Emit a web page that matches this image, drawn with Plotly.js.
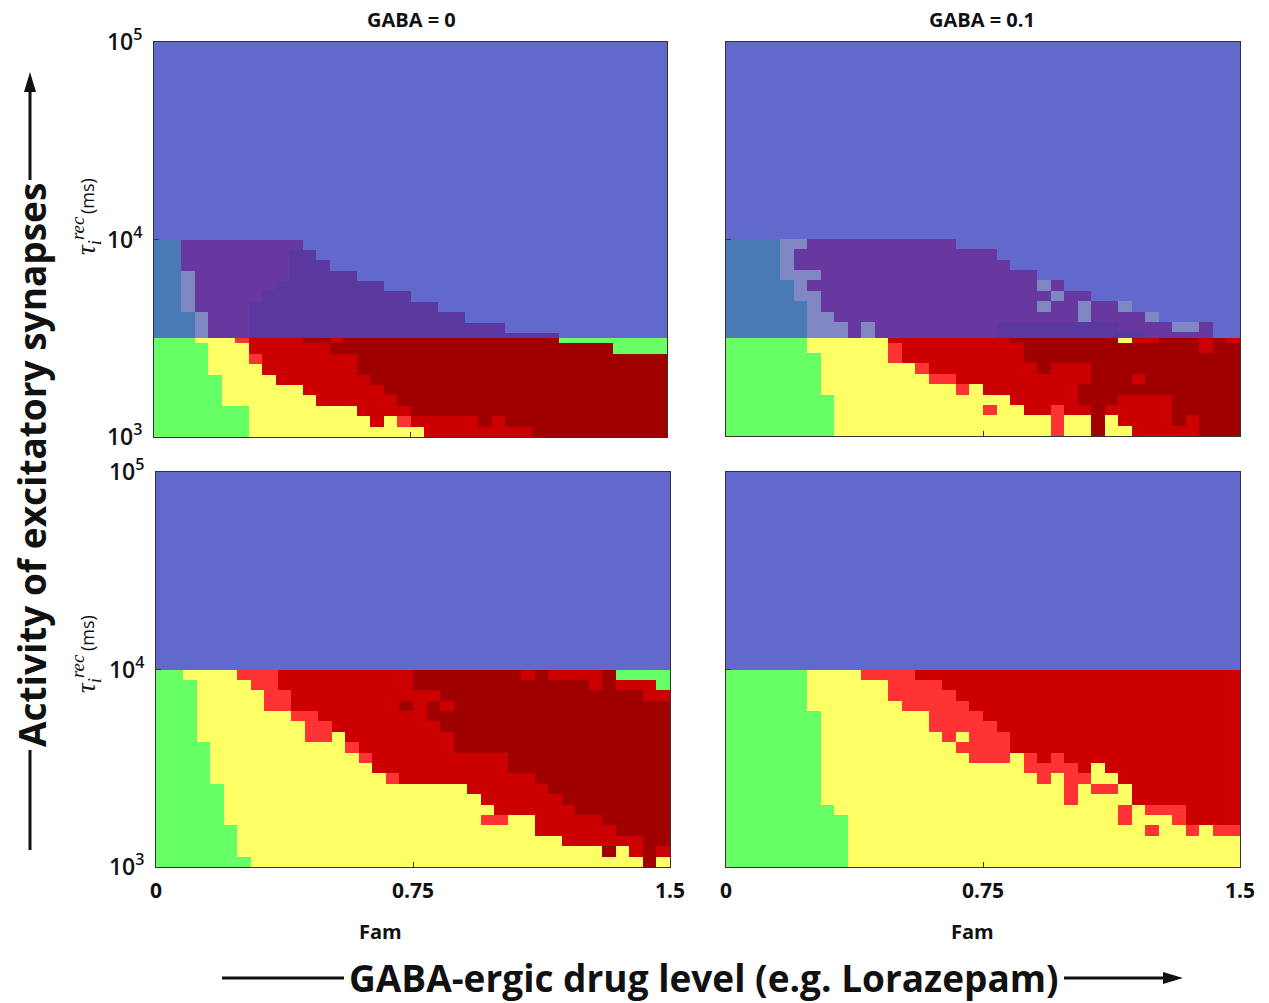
<!DOCTYPE html>
<html><head><meta charset="utf-8">
<script src="https://cdn.plot.ly/plotly-3.0.1.min.js"></script>
<style>html,body{margin:0;padding:0;background:#fff;} #chart{width:1269px;height:1003px;}</style>
</head><body><div id="chart"></div>
<script>
// ---------------- DATA ----------------
const columnTitles = ['GABA = 0', 'GABA = 0.1'];
const famTicks = [0, 0.75, 1.5];
const famTickText = ['0', '0.75', '1.5'];
const famRange = [0, 1.5];
const famCells = 38;                 // grid columns over Fam
const tauLogTicks = [3, 4, 5];       // log10(tau) ticks
const tauTickText = ['10<sup>3</sup>', '10<sup>4</sup>', '10<sup>5</sup>'];
const tauCellsPerDecade = 19;        // grid rows per decade (below 10^4)
const overlayLogTau = 3.5;           // top-row panels: boundary of the shaded band

// regime letters -> colours
const regimeCodes = ['B', 'T', 'L', 'P', 'Q', 'G', 'Y', 'R', 'D', 'O'];
const regimeColors = ['#6169cc', '#4a7ab6', '#8088c4', '#6838a0', '#5b37a0',
                      '#66ff66', '#ffff66', '#cc0000', '#a00000', '#ff3333'];

// rows listed from just below 10^4 (top) down to 10^3 (bottom), run-length coded
const gaba0_top = [
  'T2 P9 B27', 'T2 P8 Q2 B26', 'T2 P8 Q3 B25', 'T2 L1 P7 Q5 B23', 'T2 L1 P6 Q8 B21',
  'T2 L1 P5 Q11 B19', 'T2 L1 P4 Q14 B17', 'T3 L1 P3 Q16 B15', 'T3 L1 P3 Q19 B12',
  'T3 L1 P3 Q23 B8',
  'G3 Y3 O1 R4 D2 R1 D16 G8', 'G4 Y3 R6 D21 G4', 'G4 Y3 O1 R7 D23', 'G4 Y4 R7 D23',
  'G5 Y4 R7 D22', 'G5 Y6 R6 D21', 'G5 Y7 R6 D20', 'G7 Y8 R4 D19',
  'G7 Y9 R1 Y1 O1 R5 D1 R1 D12', 'G7 Y13 R8 D10'
];
const gaba01_top = [
  'T4 L2 P11 B21', 'T4 L1 P15 B18', 'T4 L1 P16 B17', 'T4 L3 P16 B15',
  'T5 L1 P17 L1 P1 B13', 'T5 L2 P17 L1 P2 B11', 'T6 L1 P16 L1 P2 L1 P2 L1 B8',
  'T6 L2 P18 L1 P4 L1 B6', 'T6 L3 P1 L1 P9 Q9 P4 L2 P1 B2',
  'T6 L3 P1 L1 P9 Q11 P5 B2',
  'G6 Y6 R9 D8 Y1 R2 D3 R1 D1 R1', 'G6 Y6 O1 R9 D13 R1 D2', 'G7 Y5 O1 R9 D16',
  'G7 Y7 O1 R8 D1 R3 D11', 'G7 Y8 O2 R10 D3 R1 D7', 'G7 Y10 O1 Y1 R7 D12',
  'G8 Y13 R5 D3 R4 D5', 'G8 Y11 O1 Y2 R2 O1 R2 D1 R5 D5',
  'G8 Y16 O1 Y2 D1 Y1 R4 D1 R1 D3', 'G8 Y16 O1 Y2 D1 Y2 R5 D3'
];
const gaba0_bottom = [
  'G2 Y4 O3 R10 D8 R1 D1 R4 D1 G4', 'G3 Y4 O2 R10 D13 R1 D1 R3 G1', 'G3 Y5 O2 R11 D15 R2',
  'G3 Y5 O2 R8 D1 R1 D1 R1 D16', 'G3 Y7 O2 R8 D18', 'G3 Y8 O2 R8 D17', 'G3 Y8 O2 Y1 R8 D16',
  'G4 Y10 O1 R7 D16', 'G4 Y11 O1 R10 D12', 'G4 Y12 R10 D12', 'G4 Y13 O1 R10 D10',
  'G5 Y18 R6 D9', 'G5 Y19 R6 D8', 'G5 Y20 R6 D7', 'G5 Y19 O2 Y2 R5 D5', 'G6 Y22 R6 D4',
  'G6 Y24 R6 D2', 'G6 Y27 D1 Y1 R1 D1 R1', 'G7 Y29 D1 Y1'
];
const gaba01_bottom = [
  'G6 Y4 O4 R24', 'G6 Y6 O4 R22', 'G6 Y6 O5 R21', 'G6 Y7 O5 R20', 'G7 Y8 O4 R19',
  'G7 Y8 O5 R18', 'G7 Y9 O1 Y1 O3 R17', 'G7 Y10 O4 R17', 'G7 Y11 O3 Y1 O1 R1 O1 R13',
  'G7 Y15 O4 R1 Y1 R10', 'G7 Y16 O1 Y1 O2 Y2 R9', 'G7 Y18 O1 Y1 O2 Y1 R8',
  'G7 Y18 O1 Y4 R8', 'G8 Y21 O1 Y1 O3 R4', 'G9 Y20 O1 Y3 O1 R4', 'G9 Y22 O1 Y2 O1 Y1 O2',
  'G9 Y29', 'G9 Y29', 'G9 Y29'
];

// ---------------- BUILD ----------------
function expand(rle) {
  let s = '';
  rle.trim().split(/\s+/).forEach(t => { s += t[0].repeat(parseInt(t.slice(1), 10)); });
  if (s.length !== famCells) console.warn('row length', rle, s.length);
  return s;
}
const famEdges = [];
for (let i = 0; i <= famCells; i++) famEdges.push(famRange[0] + (famRange[1] - famRange[0]) * i / famCells);

function buildPanel(rows, split) {
  const z = rows.map(expand).reverse().map(s => s.split('').map(c => regimeCodes.indexOf(c)));
  z.push(new Array(famCells).fill(regimeCodes.indexOf('B')));
  const yEdges = [];
  for (let k = 0; k <= tauCellsPerDecade; k++) {
    yEdges.push(3 + k / tauCellsPerDecade);
    if (split && k === 9) yEdges.push(overlayLogTau);
  }
  yEdges.push(5);
  return { z, y: yEdges };
}

const n = regimeColors.length;
const colorscale = [];
regimeColors.forEach((c, i) => { colorscale.push([i / n, c]); colorscale.push([(i + 1) / n, c]); });

const panels = [
  buildPanel(gaba0_top, true), buildPanel(gaba01_top, true),
  buildPanel(gaba0_bottom, false), buildPanel(gaba01_bottom, false)
];
const traces = panels.map((p, i) => ({
  type: 'heatmap', x: famEdges, y: p.y, z: p.z,
  colorscale: colorscale, zmin: -0.5, zmax: n - 0.5, showscale: false,
  xaxis: 'x' + (i ? i + 1 : ''), yaxis: 'y' + (i ? i + 1 : ''), hoverinfo: 'skip'
}));

// ---------------- LAYOUT ----------------
const W = 1269, H = 1003;
const px = v => v / W, py = v => 1 - v / H;
const dom = [
  { x: [154, 667], y: [42, 437] }, { x: [726, 1240], y: [42, 436] },
  { x: [156, 670], y: [472, 867] }, { x: [726, 1240], y: [472, 867] }
];
const layout = {
  width: W, height: H, autosize: false, margin: { l: 0, r: 0, t: 0, b: 0 },
  paper_bgcolor: '#fff', plot_bgcolor: '#fff', showlegend: false,
  font: { family: 'Open Sans, sans-serif', color: '#111' },
  annotations: [], shapes: []
};
dom.forEach((d, i) => {
  const s = i ? String(i + 1) : '';
  const bottom = i >= 2;
  const left = i % 2 === 0;
  layout['xaxis' + s] = {
    domain: [px(d.x[0]), px(d.x[1])], anchor: 'y' + s, range: famRange,
    tickvals: famTicks, ticktext: famTickText, ticks: 'inside', ticklen: 5,
    tickcolor: '#333', showticklabels: bottom, showline: true, mirror: true,
    linecolor: '#333', linewidth: 1, showgrid: false, zeroline: false,
    tickfont: { size: 21, family: 'Open Sans', weight: 'bold', color: '#111' },
    ticklabelstandoff: 5
  };
  layout['yaxis' + s] = {
    domain: [py(d.y[1]), py(d.y[0])], anchor: 'x' + s, range: [3, 5],
    tickvals: tauLogTicks, ticktext: tauTickText, ticks: 'inside', ticklen: 5,
    tickcolor: '#333', showline: true, mirror: true, linecolor: '#333', linewidth: 1,
    showgrid: false, zeroline: false, showticklabels: left,
    tickfont: { size: 23, family: 'Open Sans', weight: 600, color: '#111' }, ticklabelstandoff: 6
  };
});

const A = layout.annotations;
const ann = (x, y, text, font, extra) => A.push(Object.assign({ xref: 'paper', yref: 'paper',
  x: px(x), y: py(y), text, font, showarrow: false, xanchor: 'center', yanchor: 'middle' }, extra || {}));
const bold20 = { family: 'Open Sans', size: 20, weight: 'bold', color: '#111' };
ann(411, 19, columnTitles[0], bold20);
ann(982, 19, columnTitles[1], bold20);
ann(380, 931, 'Fam', bold20);
ann(972, 931, 'Fam', bold20);
// axis titles (read bottom-to-top), tau drawn in a serif italic
const tauText = '<i>τ</i><sub><i>i</i></sub><sup><i>rec</i></sup>';
[236, 674].forEach(yc => ann(86, yc, tauText, { family: 'Liberation Serif', size: 27, color: '#111' }, { textangle: -90 }));
[196, 633].forEach(yc => ann(87, yc, '(ms)', { family: 'Open Sans', size: 18, color: '#111' }, { textangle: -90 }));
const big = { family: 'Open Sans', size: 37, weight: 'bold', color: '#111' };
ann(31, 465, 'Activity of excitatory synapses', big, { textangle: -90 });
ann(704, 977, 'GABA-ergic drug level (e.g. Lorazepam)', big);

const S = layout.shapes;
const ln = (x0, y0, x1, y1) => S.push({ type: 'line', xref: 'paper', yref: 'paper',
  x0: px(x0), y0: py(y0), x1: px(x1), y1: py(y1), line: { color: '#111', width: 3 } });
ln(30, 850, 30, 750); ln(30, 180, 30, 88);
ln(222, 978, 344, 978); ln(1064, 978, 1168, 978);
S.push({ type: 'path', xref: 'paper', yref: 'paper', fillcolor: '#111', line: { width: 0 },
  path: `M ${px(30)} ${py(72)} L ${px(24)} ${py(92)} L ${px(36)} ${py(92)} Z` });
S.push({ type: 'path', xref: 'paper', yref: 'paper', fillcolor: '#111', line: { width: 0 },
  path: `M ${px(1183)} ${py(978)} L ${px(1163)} ${py(972)} L ${px(1163)} ${py(984)} Z` });

Plotly.newPlot('chart', traces, layout, { staticPlot: true, displayModeBar: false });
</script>
</body></html>
